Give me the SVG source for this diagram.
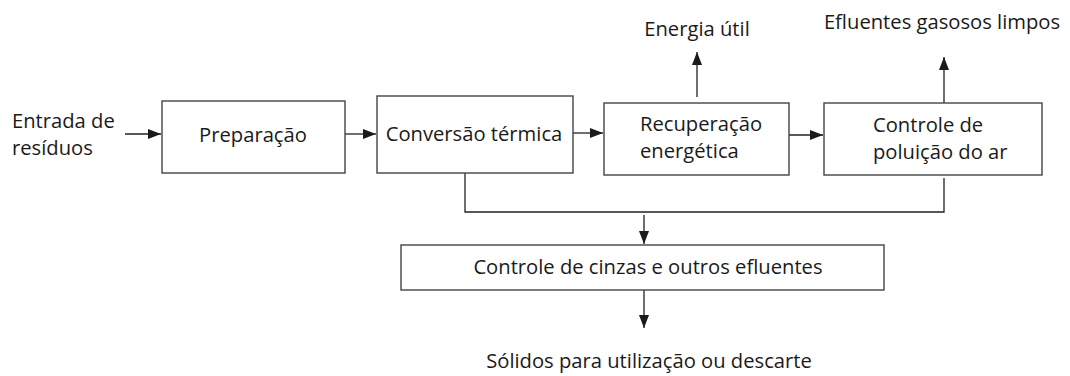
<svg xmlns="http://www.w3.org/2000/svg" width="1070" height="376" viewBox="0 0 1070 376">
<style>
.box{fill:#fff;stroke:#444;stroke-width:1.4}
.ln{fill:none;stroke:#222;stroke-width:1.3}
text{font-family:"Open Sans","Noto Sans",sans-serif;font-size:20.2px;fill:#1a1a1a}
.c{text-anchor:middle}
</style>
<defs>
<marker id="ah" viewBox="0 0 13 10" refX="13" refY="5" markerWidth="13" markerHeight="10" markerUnits="userSpaceOnUse" orient="auto">
<path d="M0,0 L13,5 L0,10 Z" fill="#1a1a1a"/>
</marker>
</defs>
<rect width="1070" height="376" fill="#fff"/>
<g id="connectors">
<line class="ln" x1="125" y1="134" x2="161" y2="134" marker-end="url(#ah)"/>
<line class="ln" x1="345" y1="134" x2="376" y2="134" marker-end="url(#ah)"/>
<line class="ln" x1="573" y1="133" x2="603" y2="133" marker-end="url(#ah)"/>
<line class="ln" x1="789" y1="135" x2="823" y2="135" marker-end="url(#ah)"/>
<line class="ln" x1="697" y1="97" x2="697" y2="52" marker-end="url(#ah)"/>
<line class="ln" x1="944" y1="103" x2="944" y2="57" marker-end="url(#ah)"/>
<polyline class="ln" points="465,173 465,212 944,212 944,178"/>
<line class="ln" x1="644" y1="215" x2="644" y2="244" marker-end="url(#ah)"/>
<line class="ln" x1="644" y1="290" x2="644" y2="328" marker-end="url(#ah)"/>
</g>
<g id="entrada">
<text x="12" y="128">Entrada de</text>
<text x="12" y="155">resíduos</text>
</g>
<g id="preparacao">
<rect class="box" x="162" y="101" width="183" height="72"/>
<text class="c" x="253" y="142">Preparação</text>
</g>
<g id="conversao">
<rect class="box" x="377" y="96" width="196" height="77"/>
<text class="c" x="474" y="141">Conversão térmica</text>
</g>
<g id="recuperacao">
<rect class="box" x="604" y="103" width="185" height="72"/>
<text x="640" y="131">Recuperação</text>
<text x="640" y="158">energética</text>
</g>
<g id="controle-poluicao">
<rect class="box" x="824" y="103" width="218" height="72"/>
<text x="873" y="132">Controle de</text>
<text x="873" y="159">poluição do ar</text>
</g>
<g id="energia">
<text class="c" x="697" y="36">Energia útil</text>
</g>
<g id="efluentes">
<text class="c" x="942" y="29">Efluentes gasosos limpos</text>
</g>
<g id="cinzas">
<rect class="box" x="401" y="245" width="483" height="45"/>
<text class="c" x="648" y="274">Controle de cinzas e outros efluentes</text>
</g>
<g id="solidos">
<text class="c" x="649" y="368">Sólidos para utilização ou descarte</text>
</g>
</svg>
